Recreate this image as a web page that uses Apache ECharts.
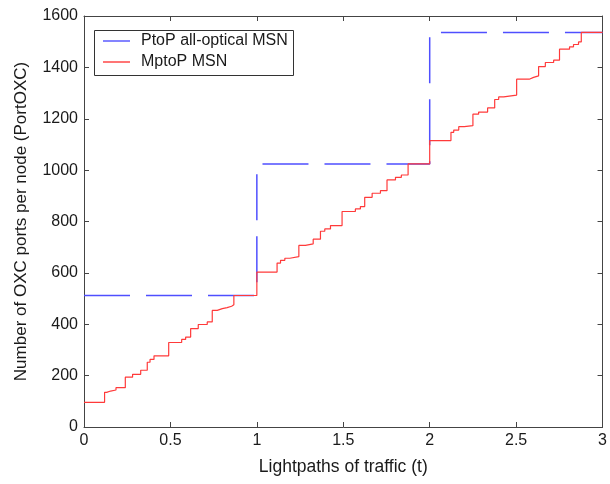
<!DOCTYPE html>
<html>
<head>
<meta charset="utf-8">
<script src="https://cdn.jsdelivr.net/npm/echarts@6/dist/echarts.min.js"></script>
<style>
  html, body { margin: 0; padding: 0; background: #fff; }
  #chart { width: 610px; height: 484px; }
</style>
</head>
<body>
<div id="chart"></div>
<script>
// Port counts per node versus traffic load (lightpaths)
const seriesNames = ['PtoP all-optical MSN', 'MptoP MSN'];

// Point-to-point: ports jump in whole blocks of 512
const ptopX = [0, 1, 2, 3];
const ptopY = [512, 1024, 1536, 1536];

// Multipoint-to-point: finer staircase growth
const mptopX = [0, 0.119, 0.131, 0.154, 0.185, 0.239, 0.281, 0.328, 0.366, 0.382, 0.405,
  0.490, 0.565, 0.588, 0.617, 0.661, 0.713, 0.742, 0.771, 0.800, 0.828, 0.854, 0.867,
  1.000, 1.117, 1.137, 1.162, 1.191, 1.243, 1.281, 1.326, 1.368, 1.393, 1.426,
  1.493, 1.570, 1.599, 1.624, 1.667, 1.715, 1.753, 1.802, 1.836, 1.875,
  2.000, 2.123, 2.139, 2.168, 2.200, 2.250, 2.283, 2.335, 2.376, 2.399, 2.428,
  2.503, 2.576, 2.601, 2.630, 2.669, 2.717, 2.751, 2.809, 2.832, 2.861, 2.877, 3.000];
const mptopY = [96, 135, 140, 144, 153, 194, 205, 221, 252, 263, 277,
  329, 341, 350, 383, 399, 409, 454, 461, 465, 470, 476, 512,
  603, 638, 649, 657, 663, 707, 713, 731, 762, 771, 784,
  839, 849, 858, 894, 910, 920, 962, 972, 981, 1024,
  1115, 1147, 1156, 1169, 1173, 1218, 1226, 1242, 1275, 1285, 1292,
  1354, 1361, 1367, 1403, 1419, 1428, 1471, 1480, 1489, 1499, 1536, 1536];

const xTicks = { min: 0, max: 3, interval: 0.5 };
const yTicks = { min: 0, max: 1600, interval: 200 };

const font = 'Liberation Sans, Arial, Helvetica, sans-serif';
const textColor = '#1a1a1a';
const axisColor = '#444';
const blue = '#4f4fff';
const red = '#ff3a3a';
// plain short line used as the legend key
const keyLine = 'path://M0,0H27V1.4H0Z';

const zip = (xs, ys) => xs.map((x, i) => [x, ys[i]]);

const baseAxis = {
  type: 'value',
  axisLine: { show: true, onZero: false, lineStyle: { color: axisColor, width: 1 } },
  axisTick: { show: true, inside: true, length: 5, lineStyle: { color: axisColor } },
  splitLine: { show: false },
  axisLabel: { show: false }
};

const chart = echarts.init(document.getElementById('chart'), null, { renderer: 'canvas' });
chart.setOption({
  animation: false,
  backgroundColor: '#fff',
  grid: { left: 84, right: 5, top: 16, bottom: 57 },
  xAxis: [
    Object.assign({}, baseAxis, xTicks, {
      position: 'bottom',
      name: 'Lightpaths of traffic (t)',
      nameLocation: 'middle',
      nameGap: 31,
      nameTextStyle: { fontFamily: font, fontSize: 17.5, color: textColor },
      axisLabel: { show: true, margin: 6, fontFamily: font, fontSize: 16, color: textColor,
        formatter: v => String(v) }
    }),
    Object.assign({}, baseAxis, xTicks, { position: 'top' })
  ],
  yAxis: [
    Object.assign({}, baseAxis, yTicks, {
      position: 'left',
      name: 'Number of OXC ports per node (PortOXC)',
      nameLocation: 'middle',
      nameGap: 54,
      nameTextStyle: { fontFamily: font, fontSize: 17, color: textColor },
      axisLabel: { show: true, margin: 6, fontFamily: font, fontSize: 16, color: textColor,
        formatter: v => String(v) }
    }),
    Object.assign({}, baseAxis, yTicks, { position: 'right' })
  ],
  legend: {
    orient: 'vertical',
    left: 103,
    top: 33,
    itemWidth: 27,
    itemHeight: 16,
    itemGap: 5,
    padding: 0,
    textStyle: { fontFamily: font, fontSize: 16, color: textColor, padding: [0, 0, 0, 6] },
    data: [
      { name: seriesNames[0], icon: keyLine, itemStyle: { color: blue } },
      { name: seriesNames[1], icon: keyLine, itemStyle: { color: red } }
    ]
  },
  graphic: [{
    type: 'rect',
    left: 94, top: 30,
    shape: { width: 199, height: 45 },
    style: { fill: 'rgba(0,0,0,0)', stroke: '#333', lineWidth: 1 },
    z: 10
  }],
  series: [
    {
      name: seriesNames[0],
      type: 'line',
      step: 'end',
      symbol: 'none',
      data: zip(ptopX, ptopY),
      lineStyle: { color: blue, width: 1.5, type: [46, 16] },
      itemStyle: { color: blue },
      z: 2
    },
    {
      name: seriesNames[1],
      type: 'line',
      step: 'end',
      symbol: 'none',
      data: zip(mptopX, mptopY),
      lineStyle: { color: red, width: 1.2 },
      itemStyle: { color: red },
      z: 3
    }
  ]
});
</script>
</body>
</html>
